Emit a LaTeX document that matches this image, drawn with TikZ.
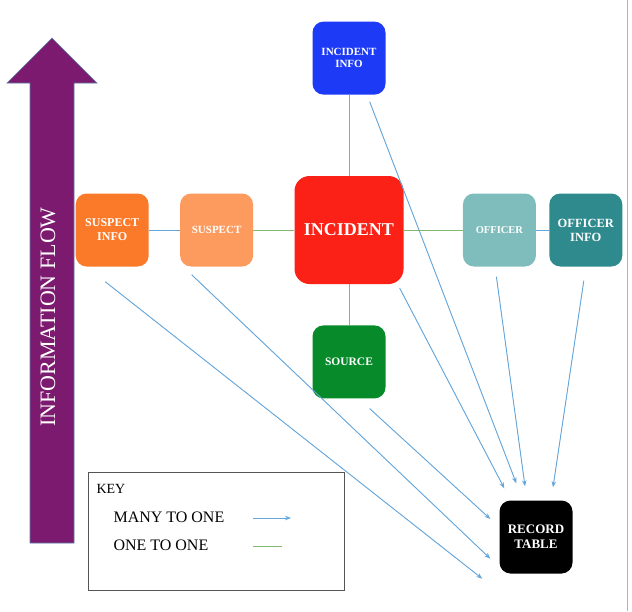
\documentclass[tikz,border=0pt]{standalone}
\usepackage{fontspec}
\setmainfont{Liberation Serif}
\usetikzlibrary{positioning,calc,arrows.meta}

\definecolor{flowpurple}{RGB}{123,26,110}
\definecolor{flowedge}{RGB}{90,125,170}
\definecolor{incred}{RGB}{251,33,23}
\definecolor{incinfoblue}{RGB}{29,58,247}
\definecolor{suspinfoorange}{RGB}{251,122,42}
\definecolor{susporange}{RGB}{253,155,95}
\definecolor{offteal}{RGB}{127,188,188}
\definecolor{offinfoteal}{RGB}{46,138,140}
\definecolor{srcgreen}{RGB}{6,138,42}
\definecolor{onegreen}{RGB}{130,185,110}
\definecolor{manyblue}{RGB}{100,165,218}
\definecolor{keygrey}{RGB}{85,85,85}

\begin{document}
\begin{tikzpicture}[x=1pt, y=-1pt, >={Stealth[length=6pt,width=4.5pt]},
  box/.style={rounded corners=11pt, minimum width=73pt, minimum height=73pt, inner sep=1pt, align=center, text=white},
  one/.style={draw=onegreen, line width=1pt},
  many/.style={->, draw=manyblue, fill=manyblue, line width=0.9pt}]

  \useasboundingbox (0,0) rectangle (632,611);

  % Information flow arrow
  \fill[flowpurple, draw=flowedge, line width=0.6pt] (30,543) -- (30,83) -- (7,83) -- (52,38) -- (97,83) -- (74,83) -- (74,543) -- cycle;
  \node[rotate=90, text=white, font=\fontsize{22}{26}\selectfont] (flow) at (48,317) {INFORMATION FLOW};

  % Centre row
  \node[box, fill=incred, minimum width=109pt, minimum height=108pt, rounded corners=15pt, font=\bfseries\fontsize{18}{20}\selectfont] (inc) at (349,230) {INCIDENT};
  \node[box, fill=susporange, left=41pt of inc, font=\bfseries\fontsize{11}{13}\selectfont] (susp) {SUSPECT};
  \node[box, fill=suspinfoorange, left=31pt of susp, font=\bfseries\fontsize{12}{14}\selectfont] (suspinfo) {SUSPECT\\INFO};
  \node[box, fill=offteal, right=59pt of inc, font=\bfseries\fontsize{10.5}{12}\selectfont] (off) {OFFICER};
  \node[box, fill=offinfoteal, right=13pt of off, font=\bfseries\fontsize{12.5}{14}\selectfont] (offinfo) {OFFICER\\INFO};

  % Above and below
  \node[box, fill=incinfoblue, above=81pt of inc, font=\bfseries\fontsize{11}{12.5}\selectfont] (incinfo) {INCIDENT\\INFO};
  \node[box, fill=srcgreen, below=41pt of inc, font=\bfseries\fontsize{11.5}{13}\selectfont] (src) {SOURCE};
  \node[box, fill=black, font=\bfseries\fontsize{13}{15}\selectfont] (rec) at (536,537) {RECORD\\TABLE};

  % One to one
  \draw[one] (incinfo) -- (inc);
  \draw[one] (susp) -- (inc);
  \draw[one] (inc) -- (off);
  \draw[one] (inc) -- (src);
  \draw[draw=manyblue, line width=1pt] (suspinfo) -- (susp);
  \draw[draw=manyblue, line width=1pt] (off) -- (offinfo);

  % Many to one
  \draw[many] ($(suspinfo.south)+(-7,15)$) -- ($(rec.south west)+(-17,5)$);
  \draw[many] ($(susp.south)+(-25,8)$) -- ($(rec.south west)+(-9,-15)$);
  \draw[many] ($(src.south east)+(-16,10)$) -- ($(rec.west)+(-9,-18)$);
  \draw[many] ($(inc.south east)+(-4,4)$) -- ($(rec.north west)+(5,-12)$);
  \draw[many] ($(incinfo.south east)+(-16,7)$) -- ($(rec.north west)+(17,-17)$);
  \draw[many] ($(off.south)+(-3,10)$) -- ($(rec.north)+(-11,-14)$);
  \draw[many] ($(offinfo.south)+(-2,14)$) -- ($(rec.north)+(17,-13)$);

  % Key
  \node[draw=keygrey, line width=1pt, minimum width=256pt, minimum height=118pt, inner sep=0pt] (key) at (216,531) {};
  \node[anchor=west, font=\fontsize{14}{16}\selectfont] (keytitle) at (93,489) {KEY};
  \node[anchor=west, font=\fontsize{16}{18}\selectfont] (m2o) at (110,517) {MANY TO ONE};
  \node[anchor=west, font=\fontsize{16}{18}\selectfont] (o2o) at (110,545) {ONE TO ONE};
  \coordinate (m2oa) at (253,518);
  \coordinate (m2ob) at (291,518);
  \coordinate (o2oa) at (253,546);
  \coordinate (o2ob) at (282,546);
  \draw[many] (m2oa) -- (m2ob);
  \draw[one] (o2oa) -- (o2ob);

  % page edge
  \draw[draw=black!30, line width=0.8pt] (627,0) -- (627,611);

\end{tikzpicture}
\end{document}
